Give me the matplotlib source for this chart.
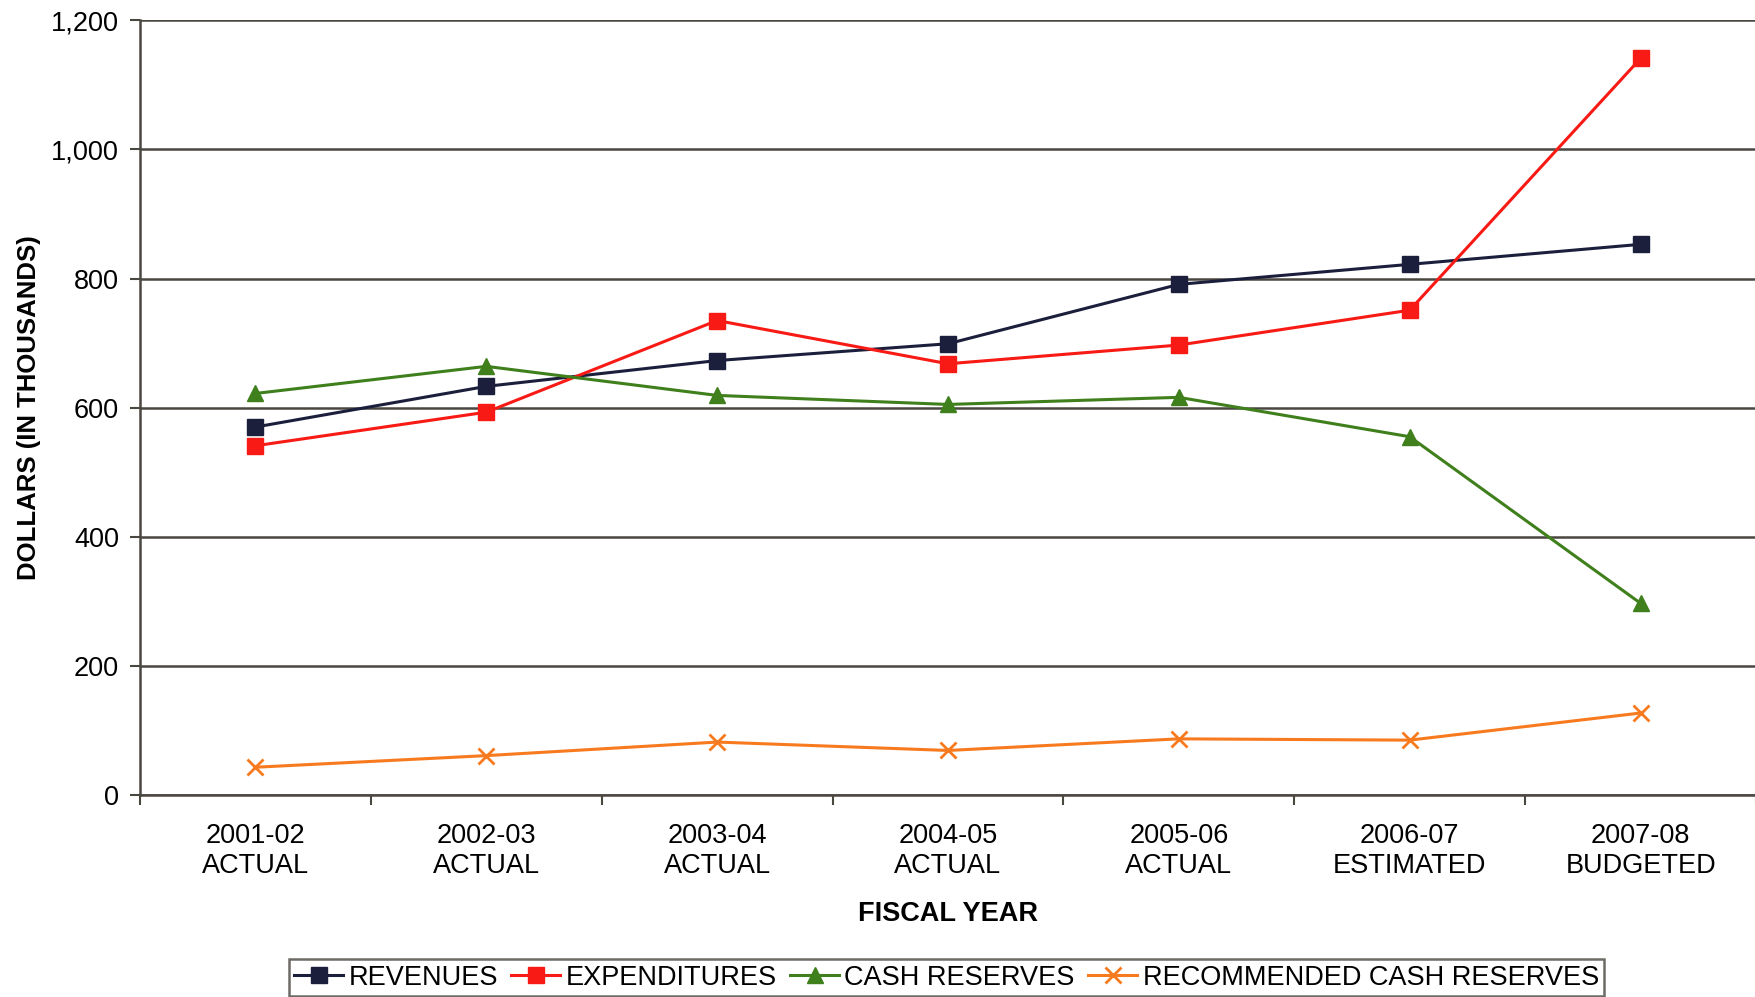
import matplotlib.pyplot as plt
import numpy as np
from matplotlib.ticker import FuncFormatter, FixedLocator

plt.rcParams['font.family'] = ['Liberation Sans', 'DejaVu Sans']

years = ['2001-02\nACTUAL', '2002-03\nACTUAL', '2003-04\nACTUAL', '2004-05\nACTUAL',
         '2005-06\nACTUAL', '2006-07\nESTIMATED', '2007-08\nBUDGETED']
revenues = [570, 633, 673, 699, 791, 822, 853]
expenditures = [541, 593, 735, 668, 697, 751, 1141]
cash_reserves = [622, 664, 619, 605, 616, 555, 297]
recommended = [43, 61, 82, 69, 87, 85, 127]

fig = plt.figure(figsize=(17.56, 9.97), dpi=100)
ax = fig.add_axes([0.0797, 0.2026, 0.9203, 0.777])

x = np.arange(len(years))
ax.plot(x, revenues, color='#1c1f3c', lw=2.2, marker='s', ms=11, label='REVENUES')
ax.plot(x, expenditures, color='#f81a14', lw=2.2, marker='s', ms=11, label='EXPENDITURES')
ax.plot(x, cash_reserves, color='#3f7f1c', lw=2.2, marker='^', ms=11, label='CASH RESERVES')
ax.plot(x, recommended, color='#f87a1e', lw=2.2, marker='x', ms=11, mew=2,
        label='RECOMMENDED CASH RESERVES')

ax.set_xlim(-0.5, len(years) - 0.5)
ax.set_ylim(0, 1200)
ax.set_yticks(np.arange(0, 1201, 200))
ax.yaxis.set_major_formatter(FuncFormatter(lambda v, p: f'{int(v):,}'))
ax.yaxis.grid(True, color='#4a4640', lw=1.8)
ax.set_axisbelow(True)

ax.set_xticks(x)
ax.set_xticklabels(years, fontsize=19.5, linespacing=1.2)
ax.xaxis.set_minor_locator(FixedLocator(np.arange(-0.5, len(years), 1.0)))
ax.tick_params(axis='x', which='major', length=0, pad=20)
ax.tick_params(axis='x', which='minor', length=7, width=1.5, color='#4a4640')
ax.tick_params(axis='y', length=7, width=1.5, color='#4a4640', labelsize=19.5, pad=8)

for s in ['top', 'right']:
    ax.spines[s].set_visible(False)
for s in ['left', 'bottom']:
    ax.spines[s].set_color('#4a4640')
    ax.spines[s].set_linewidth(1.8)

ax.set_xlabel('FISCAL YEAR', fontsize=19.5, fontweight='bold', labelpad=16)
ax.set_ylabel('DOLLARS (IN THOUSANDS)', fontsize=18.5, fontweight='bold', labelpad=7)

leg = fig.legend(loc='center', bbox_to_anchor=(0.539, 0.0195), ncol=4, fontsize=19.5,
                 frameon=True, fancybox=False, edgecolor='#4a4640', handlelength=1.8,
                 handletextpad=0.2, columnspacing=0.5, borderpad=0.2)
leg.get_frame().set_linewidth(1.8)

fig.savefig('out.png', dpi=100)
